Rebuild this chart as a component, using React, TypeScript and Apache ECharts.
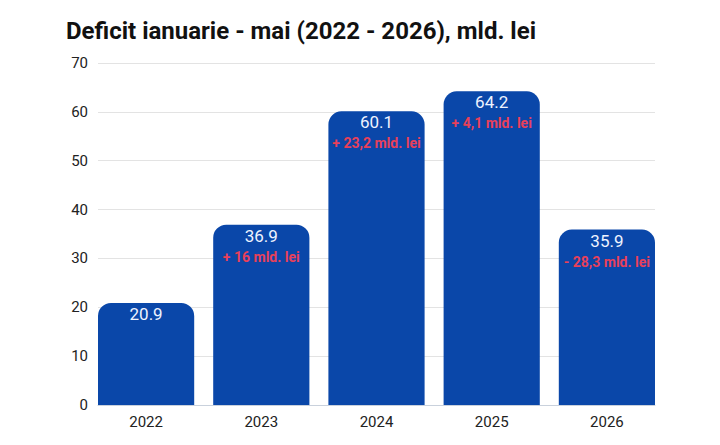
import { useEffect, useRef } from 'react';
import * as echarts from 'echarts';

const years = ['2022', '2023', '2024', '2025', '2026'];
const deficit = [20.9, 36.9, 60.1, 64.2, 35.9];
const changes = ['', '+ 16 mld. lei', '+ 23,2 mld. lei', '+ 4,1 mld. lei', '- 28,3 mld. lei'];
const yTicks = { min: 0, max: 70, interval: 10 };

const App = () => {
  const chartRef = useRef<HTMLDivElement>(null);

  useEffect(() => {
    if (!chartRef.current) return;
    const chart = echarts.init(chartRef.current, null, { renderer: 'svg' });

    // grid 0 draws the frame (split lines, y labels, base line),
    // grid 1 is a little wider so the outer bars touch the frame edges
    const option = {
      animation: false,
      backgroundColor: '#ffffff',
      title: {
        text: 'Deficit ianuarie - mai (2022 - 2026), mld. lei',
        left: 53,
        top: 6,
        textStyle: {
          fontFamily: 'Roboto',
          fontWeight: 'bold',
          fontSize: 24,
          color: '#111111',
        },
      },
      grid: [
        { left: 90, right: 57, top: 55, bottom: 32 },
        { left: 80.5, right: 47.5, top: 55, bottom: 32 },
      ],
      xAxis: [
        {
          type: 'value',
          gridIndex: 0,
          axisLabel: { show: false },
          axisTick: { show: false },
          splitLine: { show: false },
          axisLine: { show: true, lineStyle: { color: '#c9d1dc', width: 1 } },
        },
        {
          type: 'category',
          gridIndex: 1,
          data: years,
          axisTick: { show: false },
          axisLine: { show: false },
          axisLabel: { color: '#222222', fontSize: 15, fontFamily: 'Roboto', margin: 9 },
        },
      ],
      yAxis: [
        {
          type: 'value',
          gridIndex: 0,
          ...yTicks,
          axisLine: { show: false },
          axisTick: { show: false },
          axisLabel: { color: '#222222', fontSize: 15, fontFamily: 'Roboto', margin: 10 },
          splitLine: { lineStyle: { color: '#e3e3e3', width: 1 } },
        },
        {
          type: 'value',
          gridIndex: 1,
          ...yTicks,
          show: false,
        },
      ],
      series: [
        {
          type: 'bar',
          xAxisIndex: 1,
          yAxisIndex: 1,
          data: deficit,
          barCategoryGap: '16.5%',
          itemStyle: { color: '#0a47a9', borderRadius: [13, 13, 0, 0] },
          label: {
            show: true,
            position: 'insideTop',
            distance: 1,
            fontFamily: 'Roboto',
            formatter: (p: any) => {
              const c = changes[p.dataIndex];
              return c ? `{v|${p.value}}\n{d|${c}}` : `{v|${p.value}}`;
            },
            rich: {
              v: { color: '#eef3ff', fontSize: 17, fontFamily: 'Roboto', lineHeight: 20 },
              d: { color: '#e8405a', fontSize: 14, fontWeight: 'bold', fontFamily: 'Roboto', lineHeight: 22 },
            },
          },
        },
      ],
    };

    chart.setOption(option);
    return () => chart.dispose();
  }, []);

  return <div ref={chartRef} style={{ width: 704, height: 429 }} />;
};

export default App;
